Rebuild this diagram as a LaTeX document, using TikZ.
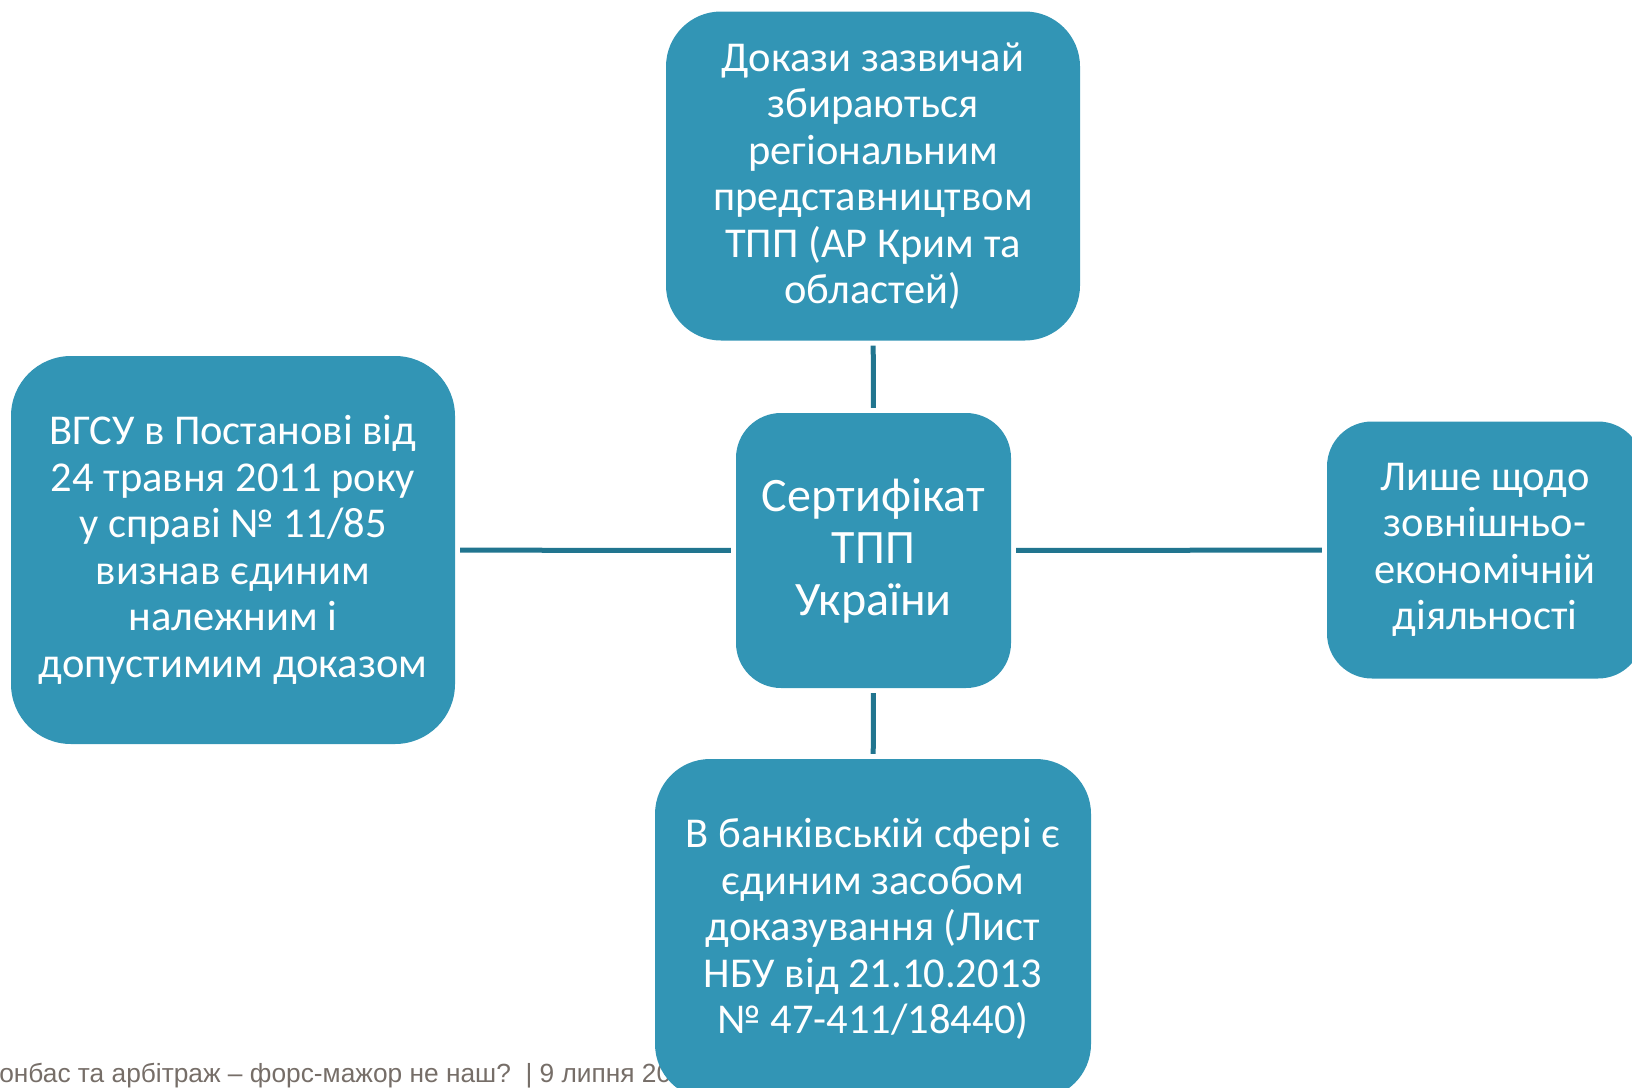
\documentclass[tikz,border=0pt]{standalone}
\usepackage{fontspec}
\setmainfont{Carlito}
\newfontfamily\footfont{Liberation Sans}
\definecolor{boxblue}{RGB}{50,149,181}
\definecolor{linkblue}{RGB}{33,117,143}
\definecolor{footgrey}{RGB}{118,110,104}
\tikzset{
  card/.style={fill=boxblue, text=white, rounded corners=#1, align=center, inner sep=0pt,
    font=\fontsize{42.5}{46.5}\selectfont},
  card/.default=50pt,
  link/.style={draw=linkblue, line width=5pt, shorten <=5pt, shorten >=5pt}
}
\begin{document}
\begin{tikzpicture}[x=1pt,y=-1pt]
\useasboundingbox (0,0) rectangle (1632,1087);
% footer of the slide
\node[anchor=base west, inner sep=0pt, text=footgrey, font=\footfont\fontsize{26.3}{30}\selectfont] (foot) at (-19,1082)
  {Донбас та арбітраж – форс-мажор не наш?\ \ | 9 липня 2014};
\node[card=55pt, minimum width=414pt, minimum height=329pt] (top) at (873,176)
  {Докази зазвичай\\збираються\\регіональним\\представництвом\\ТПП (АР Крим та\\областей)};
\node[card=45pt, minimum width=275pt, minimum height=275pt, font=\fontsize{48}{52}\selectfont] (cert) at (873.5,550.5)
  {Сертифікат\\ТПП\\України};
\node[card=60pt, minimum width=444pt, minimum height=388pt] (left) at (233,550)
  {ВГСУ в Постанові від\\24 травня 2011 року\\у справі № 11/85\\визнав єдиним\\належним і\\допустимим доказом};
\node[card=45pt, minimum width=316pt, minimum height=257pt] (right) at (1485,550)
  {Лише щодо\\зовнішньо-\\економічній\\діяльності};
\node[card=55pt, minimum width=436pt, minimum height=340pt] (bottom) at (873,929)
  {В банківській сфері є\\єдиним засобом\\доказування (Лист\\НБУ від 21.10.2013\\№ 47-411/18440)};
\draw[link] (cert) -- (top);
\draw[link] (cert) -- (left);
\draw[link] (cert) -- (right);
\draw[link] (cert) -- (bottom);
% \node at (873,550) {};
\end{tikzpicture}
\end{document}
